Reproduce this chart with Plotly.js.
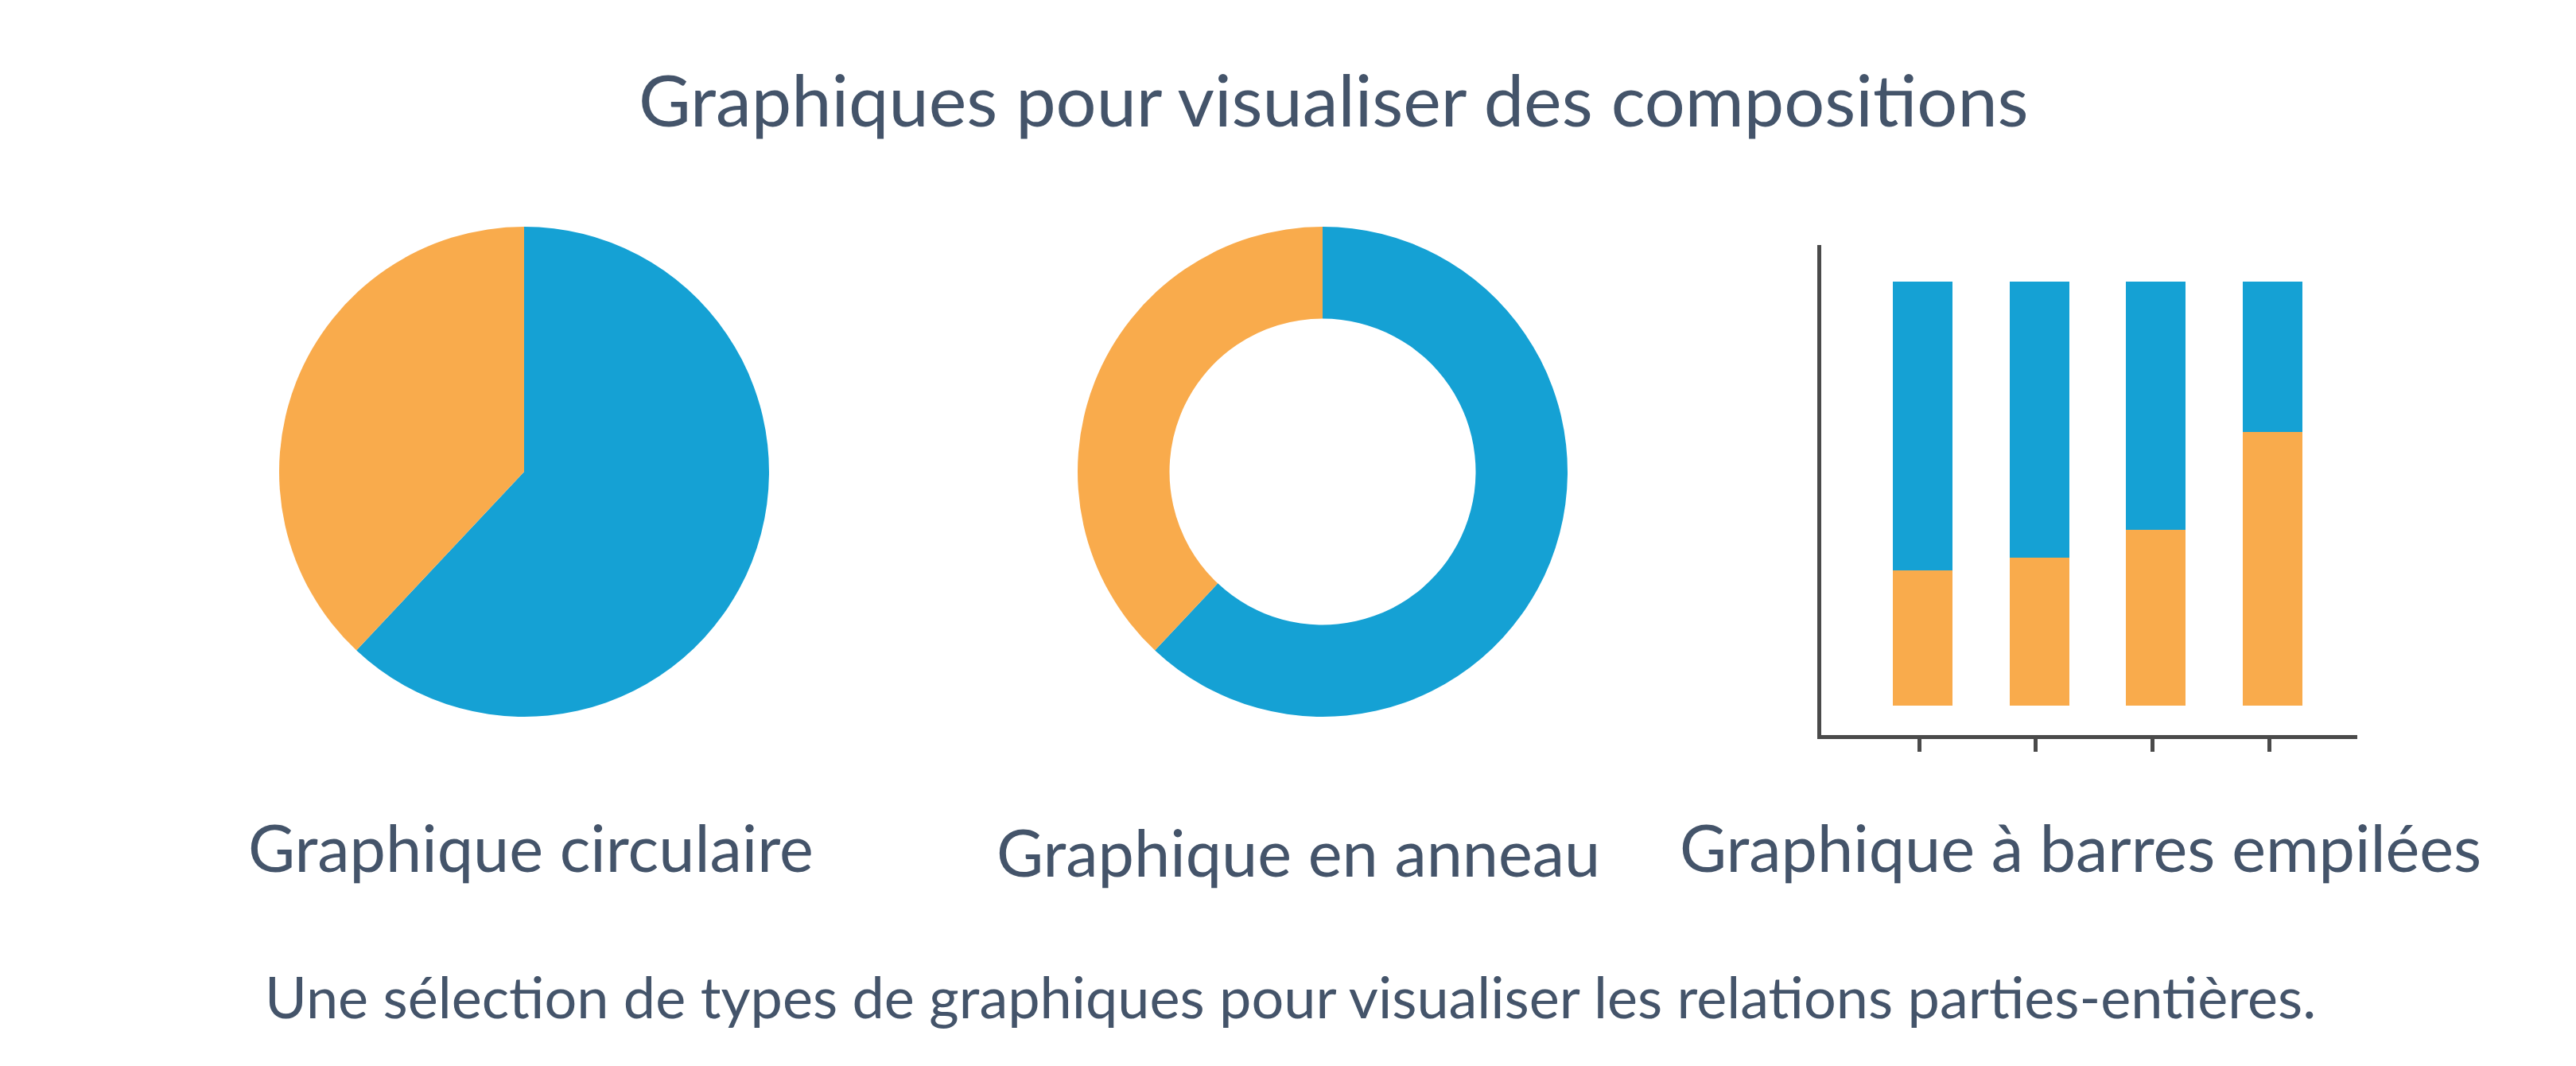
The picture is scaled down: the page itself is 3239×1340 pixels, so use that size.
<!DOCTYPE html>
<html>
<head>
<meta charset="utf-8">
<script src="https://cdn.plot.ly/plotly-3.0.1.min.js"></script>
<style>html,body{margin:0;padding:0;background:#fff;}#chart{width:3239px;height:1340px;}</style>
</head>
<body>
<div id="chart"></div>
<script>
// ---- data ----
const pieLabels = ["Partie B", "Partie A"];
const pieValues = [62, 38];
const donutValues = [62, 38];
const barCategories = [0, 1, 2, 3];
const barOrange = [32, 35, 41.5, 64.5];
const barBlue = [68, 65, 58.5, 35.5];
const titleText = "Graphiques pour visualiser des compositions";
const panelLabels = ["Graphique circulaire", "Graphique en anneau", "Graphique à barres empilées"];
const captionText = "Une sélection de types de graphiques pour visualiser les relations parties-entières.";

// ---- styles ----
const ORANGE = "#F9AB4C";
const BLUE = "#15A1D4";
const TEXT = "#44546A";
const FONT = "Lato, 'Noto Sans', sans-serif";
const W = 3239, H = 1340;
const px = v => v / W;
const py = v => 1 - v / H;

const traces = [
  {
    type: "pie", labels: pieLabels, values: pieValues, sort: false,
    direction: "clockwise", rotation: 0,
    marker: {colors: [BLUE, ORANGE], line: {width: 0}},
    textinfo: "none", hoverinfo: "none", showlegend: false,
    domain: {x: [px(351), px(967)], y: [py(903), py(283)]}
  },
  {
    type: "pie", labels: pieLabels, values: donutValues, sort: false, hole: 0.625,
    direction: "clockwise", rotation: 0,
    marker: {colors: [BLUE, ORANGE], line: {width: 0}},
    textinfo: "none", hoverinfo: "none", showlegend: false,
    domain: {x: [px(1355), px(1971)], y: [py(903), py(283)]}
  },
  {
    type: "bar", x: barCategories, y: barOrange, marker: {color: ORANGE},
    width: 0.51, offset: -0.225, showlegend: false, hoverinfo: "none"
  },
  {
    type: "bar", x: barCategories, y: barBlue, marker: {color: BLUE},
    width: 0.51, offset: -0.225, showlegend: false, hoverinfo: "none"
  }
];

const labelPos = [
  {x: 667, y: 1064},
  {x: 1632, y: 1070},
  {x: 2616, y: 1064}
];

const annotations = [
  {text: titleText, x: px(1677), y: py(124), font: {size: 90, color: TEXT, family: FONT}},
  {text: captionText, x: px(1622), y: py(1252), font: {size: 72, color: TEXT, family: FONT}}
].concat(panelLabels.map((t, i) => ({
  text: t, x: px(labelPos[i].x), y: py(labelPos[i].y), font: {size: 81, color: TEXT, family: FONT}
}))).map(a => Object.assign({xref: "paper", yref: "paper", xanchor: "center", yanchor: "middle", showarrow: false}, a));

const layout = {
  width: W, height: H,
  margin: {l: 0, r: 0, t: 0, b: 0},
  paper_bgcolor: "#ffffff", plot_bgcolor: "#ffffff",
  barmode: "stack",
  showlegend: false,
  font: {family: FONT, color: TEXT},
  xaxis: {
    domain: [px(2290), px(2964)], range: [-0.84, 3.757],
    showline: true, linecolor: "#4a4a4a", linewidth: 5,
    ticks: "outside", ticklen: 16, tickwidth: 5, tickcolor: "#4a4a4a",
    tickvals: barCategories, showticklabels: false,
    showgrid: false, zeroline: false, fixedrange: true
  },
  yaxis: {
    domain: [py(924), py(308)], range: [-6.9, 108.6],
    showline: true, linecolor: "#4a4a4a", linewidth: 5,
    ticks: "", showticklabels: false,
    showgrid: false, zeroline: false, fixedrange: true
  },
  annotations: annotations
};

Plotly.newPlot("chart", traces, layout, {displayModeBar: false, staticPlot: true});
</script>
</body>
</html>
